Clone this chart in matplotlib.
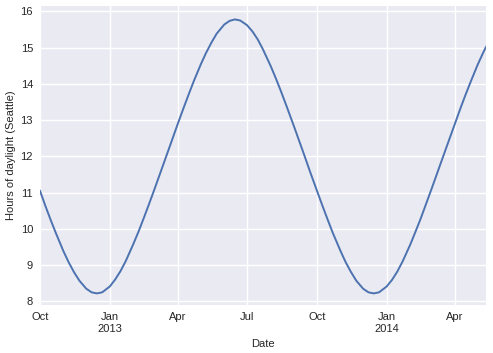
import matplotlib

matplotlib.use("Agg")
import matplotlib.pyplot as plt
import pandas as pd

# Hours of daylight in Seattle (roughly weekly)
dates = [
    "2012-10-01", "2012-10-08", "2012-10-15", "2012-10-22",
    "2012-11-01", "2012-11-08", "2012-11-15", "2012-11-22",
    "2012-12-01", "2012-12-08", "2012-12-15", "2012-12-22",
    "2013-01-01", "2013-01-08", "2013-01-15", "2013-01-22",
    "2013-02-01", "2013-02-08", "2013-02-15", "2013-02-22",
    "2013-03-01", "2013-03-08", "2013-03-15", "2013-03-22",
    "2013-04-01", "2013-04-08", "2013-04-15", "2013-04-22",
    "2013-05-01", "2013-05-08", "2013-05-15", "2013-05-22",
    "2013-06-01", "2013-06-08", "2013-06-15", "2013-06-22",
    "2013-07-01", "2013-07-08", "2013-07-15", "2013-07-22",
    "2013-08-01", "2013-08-08", "2013-08-15", "2013-08-22",
    "2013-09-01", "2013-09-08", "2013-09-15", "2013-09-22",
    "2013-10-01", "2013-10-08", "2013-10-15", "2013-10-22",
    "2013-11-01", "2013-11-08", "2013-11-15", "2013-11-22",
    "2013-12-01", "2013-12-08", "2013-12-15", "2013-12-22",
    "2014-01-01", "2014-01-08", "2014-01-15", "2014-01-22",
    "2014-02-01", "2014-02-08", "2014-02-15", "2014-02-22",
    "2014-03-01", "2014-03-08", "2014-03-15", "2014-03-22",
    "2014-04-01", "2014-04-08", "2014-04-15", "2014-04-22",
    "2014-05-01", "2014-05-08", "2014-05-12",
]
hours = [
    11.05, 10.64, 10.25, 9.88,
    9.38, 9.07, 8.80, 8.57,
    8.35, 8.25, 8.22, 8.25,
    8.41, 8.60, 8.83, 9.11,
    9.58, 9.93, 10.31, 10.70,
    11.10, 11.51, 11.92, 12.33,
    12.92, 13.32, 13.71, 14.09,
    14.54, 14.86, 15.14, 15.39,
    15.64, 15.74, 15.78, 15.75,
    15.62, 15.45, 15.23, 14.95,
    14.50, 14.15, 13.78, 13.39,
    12.82, 12.41, 12.00, 11.58,
    11.06, 10.66, 10.27, 9.89,
    9.40, 9.08, 8.81, 8.57,
    8.35, 8.25, 8.22, 8.25,
    8.41, 8.59, 8.82, 9.10,
    9.56, 9.92, 10.29, 10.69,
    11.09, 11.50, 11.91, 12.32,
    12.90, 13.31, 13.70, 14.07,
    14.53, 14.85, 15.02,
]
tick_dates = ["2012-10-01", "2013-01-01", "2013-04-01", "2013-07-01",
              "2013-10-01", "2014-01-01", "2014-04-01"]
tick_labels = ["Oct", "Jan\n2013", "Apr", "Jul", "Oct", "Jan\n2014", "Apr"]
y_ticks = [8, 9, 10, 11, 12, 13, 14, 15, 16]

x = pd.to_datetime(dates)

plt.rcParams.update({
    "font.family": ["Liberation Sans", "DejaVu Sans"],
    "font.size": 8,
    "text.color": "#262626",
    "axes.labelcolor": "#262626",
    "xtick.color": "#262626",
    "ytick.color": "#262626",
})

fig = plt.figure(figsize=(4.93, 3.53), dpi=100)
ax = fig.add_axes([40 / 493, 1 - 305 / 353, 446 / 493, 299 / 353])
ax.set_facecolor("#EAEAF2")
for s in ax.spines.values():
    s.set_visible(False)

ax.plot(x, hours, color="#4C72B0", linewidth=1.4)

ax.set_xlim(x[0], x[-1])
ax.set_ylim(7.9, 16.15)
ax.set_xticks(pd.to_datetime(tick_dates))
ax.set_xticklabels(tick_labels)
ax.set_yticks(y_ticks)
ax.tick_params(length=0, pad=5)
ax.grid(color="white", linewidth=1.0)
ax.set_axisbelow(True)

ax.set_xlabel("Date", labelpad=4)
ax.set_ylabel("Hours of daylight (Seattle)", labelpad=3)

fig.savefig("out.png", dpi=100)
